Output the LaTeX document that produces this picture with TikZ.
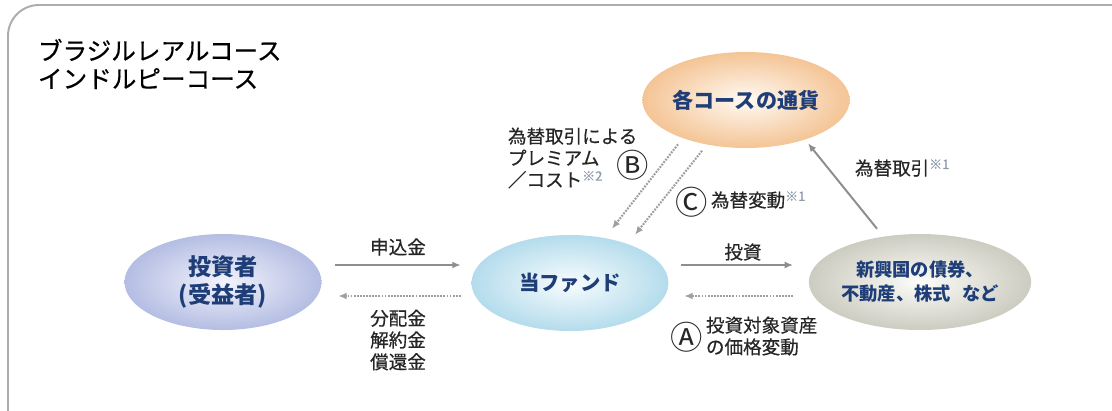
\documentclass[tikz,border=0pt]{standalone}
\usepackage{fontspec}
\setmainfont{Noto Sans CJK JP}
\newfontfamily\medfont{Noto Sans CJK JP}[FakeBold=0.5]
\usetikzlibrary{shapes.geometric,arrows.meta,calc}
\definecolor{nodetext}{HTML}{1F3E78}
\definecolor{arrowgray}{HTML}{8E8E8E}
\definecolor{notegray}{HTML}{8C9AAA}
\definecolor{invin}{HTML}{F3F4FB}
\definecolor{invout}{HTML}{B4BDE3}
\definecolor{fundin}{HTML}{F8FCFE}
\definecolor{fundout}{HTML}{B4DCEC}
\definecolor{assetin}{HTML}{FCFCF9}
\definecolor{assetout}{HTML}{CDCCC1}
\definecolor{curin}{HTML}{FFFAF3}
\definecolor{curout}{HTML}{F4C495}
\newcommand{\note}[1]{\textsuperscript{\color{notegray}※#1}}

\begin{document}
\begin{tikzpicture}[x=0.025cm, y=-0.025cm,
blob/.style={ellipse, inner sep=0pt, minimum width=197*0.025cm, minimum height=96*0.025cm, align=center, text=nodetext, font=\bfseries\fontsize{14.5}{18}\selectfont},
investor/.style={blob, inner color=invin, outer color=invout, font=\bfseries\fontsize{16.5}{20}\selectfont},
fund/.style={blob, inner color=fundin, outer color=fundout},
assets/.style={blob, inner color=assetin, outer color=assetout, font=\bfseries\fontsize{13}{17}\selectfont},
currency/.style={blob, inner color=curin, outer color=curout, font=\bfseries\fontsize{15}{18}\selectfont},
lbl/.style={font=\medfont\fontsize{13.2}{15.5}\selectfont, text=black!85},
circ/.style={font=\fontsize{23}{23}\selectfont, text=black!85, inner sep=0pt},
flow/.style={draw=arrowgray, line width=1.4pt, -{Latex[length=6pt,width=5pt]}},
back/.style={draw=arrowgray!85, line width=1.5pt, dash pattern=on 1.3pt off 0.9pt, -{Latex[length=6pt,width=5pt]}},
]
\useasboundingbox (0,0) rectangle (1112,410);
\draw[black!32, line width=1.4pt, rounded corners=22] (8,5) rectangle (1150,450);

\node[anchor=west, font=\medfont\fontsize{17.5}{20}\selectfont, align=left] (title) at (33,64) {ブラジルレアルコース\\インドルピーコース};

\node[investor] (inv) at (223,282) {投資者\\(受益者)};
\node[fund] (fnd) at (570,283) {当ファンド};
\node[assets] (ast) at (920,282) {新興国の債券、\\不動産、株式\hspace{0.6em}など};
\node[currency] (cur) at (746,100) {各コースの通貨};

\draw[flow] ($(inv.east)+(13.5,-17)$) -- ($(fnd.west)+(-10.5,-18)$);
\draw[back] ($(fnd.west)+(-10.5,13)$) -- ($(inv.east)+(16.5,14)$);
\draw[flow] ($(fnd.east)+(12.5,-18)$) -- ($(ast.west)+(-15.5,-17)$);
\draw[back] ($(ast.west)+(-15.5,14)$) -- ($(fnd.east)+(15.5,13)$);
\draw[flow] ($(ast.north)+(-43,-5)$) -- ($(cur.south)+(62,-5)$);
\draw[back] ($(cur.south)+(-68,-4)$) -- ($(fnd.north)+(42,-6)$);
\draw[back] ($(cur.south)+(-44,2.5)$) -- ($(fnd.north)+(65,0)$);

\node[lbl] (apply) at (398,247) {申込金};
\node[lbl, align=center] (payout) at (398,340) {分配金\\解約金\\償還金};
\node[lbl] (invest) at (743,252) {投資};
\node[circ] (markA) at (687,337) {Ⓐ};
\node[lbl, anchor=west, align=left] (priceA) at (701,336) {投資対象資産\\の価格変動};
\node[lbl, anchor=west, align=left] (premB) at (503,158) {為替取引による\\プレミアム\\／コスト\note{2}};
\node[circ] (markB) at (633,165) {Ⓑ};
\node[circ] (markC) at (692,202) {Ⓒ};
\node[lbl, anchor=west] (fxC) at (706,200) {為替変動\note{1}};
\node[lbl, anchor=west] (fx) at (850,168) {為替取引\note{1}};
\end{tikzpicture}
\end{document}
